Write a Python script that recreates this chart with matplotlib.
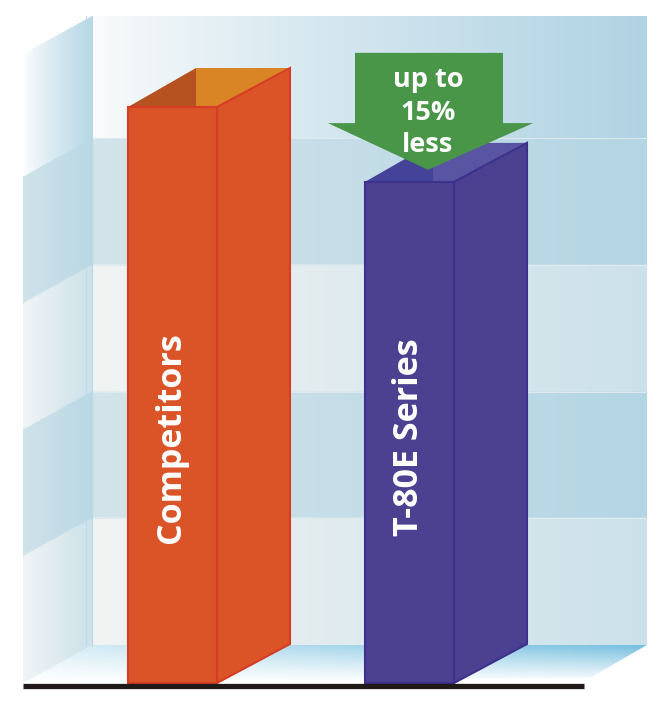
import numpy as np
import matplotlib
matplotlib.use("Agg")
import matplotlib.pyplot as plt
from matplotlib.patches import Polygon
from matplotlib.colors import to_rgb

# data
labels = ["Competitors", "T-80E Series"]
values = [100, 87]
bar_colors = ["#DA5427", "#4B4190"]
edge_colors = ["#D63C26", "#3D318E"]
top_dark = ["#B5521F", "#444399"]
top_light = ["#D98526", "#5A55A2"]
grid_levels = [0, 22, 44, 66, 88]
wall_top = 109.2
callout = "up to\n15%\nless"

# layout (x in pixels, y in value units)
PX = 5.76                      # pixels per value unit
BASE = 683                     # baseline pixel row
W, H = 662, 712
bar_x = [128, 365]
bar_w = 89
dx, dy = 73, 39 / PX           # bar depth
wx, wy = 69, 38 / PX           # wall depth
wall_l, wall_r = 23, 647

fig = plt.figure(figsize=(W / 100, H / 100), dpi=100)
ax = fig.add_axes([0, 0, 1, 1])
ax.set_xlim(0, W)
ax.set_ylim((BASE - H) / PX, BASE / PX)
ax.axis("off")


def lerp(c1, c2, t):
    c1, c2 = np.array(to_rgb(c1)), np.array(to_rgb(c2))
    return c1[None, None, :] * (1 - t[..., None]) + c2[None, None, :] * t[..., None]


def band_colors(h, t, top, dark, light):
    img = np.zeros(h.shape + (3,))
    band = np.digitize(h, grid_levels[1:])
    for k in range(len(grid_levels)):
        m = band == k
        if k == len(grid_levels) - 1:
            c = lerp(*top, t ** 0.8)
        elif (len(grid_levels) - 1 - k) % 2 == 1:
            c = lerp(*dark, t)
        else:
            c = lerp(*light, t)
        img[m] = c[m]
    return img


# back wall
xb0 = wall_l + wx
ys = np.linspace(wy, wy + wall_top, 400)
xs = np.linspace(xb0, wall_r, 300)
X, Y = np.meshgrid(xs, ys)
T = (X - xb0) / (wall_r - xb0)
img = band_colors(Y - wy, T, ("#FBFCFC", "#B0D3E3"), ("#D3E4EA", "#B4D5E3"),
                  ("#F2F4F4", "#CBE1E9"))
ax.imshow(img, extent=[xb0, wall_r, wy, wy + wall_top], origin="lower",
          aspect="auto", zorder=1, interpolation="bilinear")
for g in grid_levels[1:]:
    ax.plot([xb0, wall_r], [g + wy, g + wy], color="#DCEAF0", lw=0.8, zorder=1.5)

# left wall
xs = np.linspace(wall_l, xb0, 120)
ys = np.linspace(0, wy + wall_top, 500)
X, Y = np.meshgrid(xs, ys)
T = (X - wall_l) / wx
img = band_colors(Y - wy * T, T, ("#FFFFFF", "#B7D7E5"), ("#D0E3EA", "#B9D8E5"),
                  ("#F1F4F5", "#CCE1EA"))
im = ax.imshow(img, extent=[wall_l, xb0, 0, wy + wall_top], origin="lower",
               aspect="auto", zorder=1, interpolation="bilinear")
lw_poly = Polygon([(wall_l, 0), (xb0, wy), (xb0, wy + wall_top), (wall_l, wall_top)],
                  closed=True, transform=ax.transData)
im.set_clip_path(lw_poly)
ax.plot([xb0 - 6, xb0 - 6], [wy, wy + wall_top], color="#BFDAE6", lw=0.8, zorder=1.5)
ax.plot([xb0, xb0], [wy, wy + wall_top], color="#B8D6E4", lw=0.8, zorder=1.5)

# floor
fr_x = 590
xs = np.linspace(wall_l, wall_r, 400)
ys = np.linspace(0, wy, 80)
X, Y = np.meshgrid(xs, ys)
depth = Y / wy
xf = (X - wall_l) / (wall_r - wall_l)
alpha = np.clip(depth, 0, 1) ** 1.1 * (0.25 + 0.75 * xf)
rgba = np.zeros(X.shape + (4,))
rgba[..., :3] = to_rgb("#74BFDE")
rgba[..., 3] = alpha
im = ax.imshow(rgba, extent=[wall_l, wall_r, 0, wy], origin="lower",
               aspect="auto", zorder=1, interpolation="bilinear")
floor_poly = Polygon([(wall_l, 0), (xb0, wy), (wall_r, wy), (fr_x, 0.9)],
                     closed=True, transform=ax.transData)
im.set_clip_path(floor_poly)

# bars
for i, v in enumerate(values):
    x0 = bar_x[i]
    x1 = x0 + bar_w
    ec = edge_colors[i]
    front = [(x0, 0), (x1, 0), (x1, v), (x0, v)]
    side = [(x1, 0), (x1 + dx, dy), (x1 + dx, v + dy), (x1, v)]
    xm = x0 + dx - 5
    tdark = [(x0, v), (xm, v + dy), (xm, v)]
    tlight = [(xm, v + dy), (x1 + dx, v + dy), (x1, v), (xm, v)]
    for pts, fc in [(side, bar_colors[i]), (front, bar_colors[i]),
                    (tdark, top_dark[i]), (tlight, top_light[i])]:
        ax.add_patch(Polygon(pts, closed=True, facecolor=fc, edgecolor="none", zorder=3))
    ax.add_patch(Polygon(side, closed=True, facecolor="none", edgecolor=ec, lw=1.5, zorder=4))
    ax.add_patch(Polygon(front, closed=True, facecolor="none", edgecolor=ec, lw=1.5, zorder=4))
    ax.text(x0 + bar_w / 2 - 1, 42.6, labels[i], rotation=90, ha="center",
            va="center", color="white", fontsize=24.5, fontweight="bold",
            family=["Open Sans", "DejaVu Sans"], zorder=5)

# callout arrow above the second bar
v = values[1]
tip_x = 428
tip = v + 2.1
head_base = tip + 8.1
shaft_top = head_base + 12.2
arrow = [(355, shaft_top), (503, shaft_top), (503, head_base), (533, head_base),
         (tip_x, tip), (328, head_base), (355, head_base)]
ax.add_patch(Polygon(arrow, closed=True, facecolor="#4A9648", edgecolor="none", zorder=6))
ax.text(tip_x, head_base + 1.8, callout, ha="center", va="center", color="white",
        fontsize=19.5, fontweight="bold", linespacing=1.32,
        family=["Open Sans", "DejaVu Sans"], zorder=7)

# base line
ax.plot([wall_l, 584], [-0.6, -0.6], color="#1F1A17", lw=3.8,
        solid_capstyle="butt", zorder=5)

fig.savefig("out.png", dpi=100)
